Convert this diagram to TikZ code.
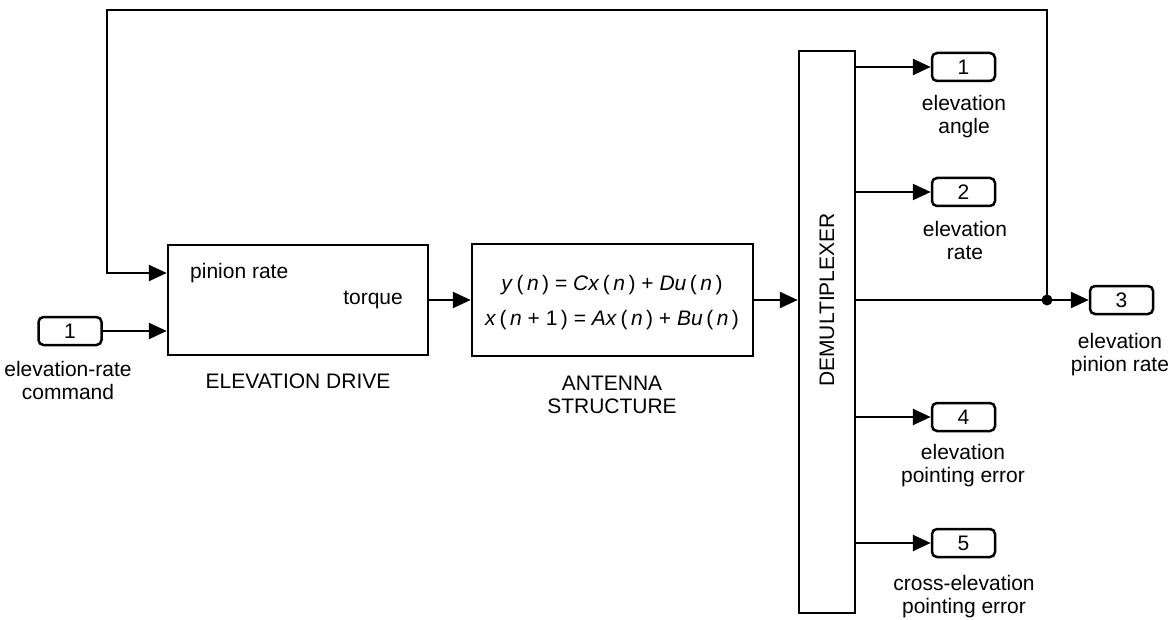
\documentclass[tikz,border=0pt]{standalone}
\usepackage{fontspec}
\setmainfont{Liberation Sans}
\usetikzlibrary{arrows.meta}
\begin{document}
\begin{tikzpicture}[x=1pt,y=-1pt,
  font=\fontsize{21}{23}\selectfont,
  blk/.style={draw,line width=2.5pt,inner sep=0pt},
  port/.style={draw,line width=2.5pt,rounded corners=5pt,minimum width=63pt,minimum height=28pt,inner sep=0pt},
  sig/.style={line width=2.5pt,-{Triangle[length=18pt,width=16pt]}},
  lbl/.style={align=center,inner sep=0pt},
]
\useasboundingbox (0,0) rectangle (1174,620);
% blocks
\node[blk,minimum width=260pt,minimum height=110pt] (drive) at (298,300) {};
\node[anchor=west,inner sep=0pt] (pin) at (190,273) {pinion rate};
\node[anchor=east,inner sep=0pt] (tq) at (403,300) {torque};
\node[lbl] (drivel) at (298,381) {ELEVATION DRIVE};
\node[blk,minimum width=281pt,minimum height=112pt] (ant) at (612.5,300) {};
\node[inner sep=0pt] (eq1) at (612,285) {\textit{y}\,(\,\textit{n}\,) = \textit{Cx}\,(\,\textit{n}\,) + \textit{Du}\,(\,\textit{n}\,)};
\node[inner sep=0pt] (eq2) at (612,320) {\textit{x}\,(\,\textit{n} + 1\,) = \textit{Ax}\,(\,\textit{n}\,) + \textit{Bu}\,(\,\textit{n}\,)};
\node[lbl] (antl) at (612,395) {ANTENNA\\STRUCTURE};
\node[blk,minimum width=56pt,minimum height=562pt] (dmx) at (827,332) {};
\node[rotate=90,inner sep=0pt] (dmxt) at (827,300) {DEMULTIPLEXER};
% ports
\node[port] (in1) at (70,331) {1};
\node[lbl] (in1l) at (68,380) {elevation-rate\\command};
\node[port] (o1) at (963.5,67) {1};
\node[lbl] (o1l) at (964,117) {elevation\\angle};
\node[port] (o2) at (963.5,192) {2};
\node[lbl] (o2l) at (965,240) {elevation\\rate};
\node[port] (o3) at (1121.5,300) {3};
\node[lbl] (o3l) at (1120,355) {elevation\\pinion rate};
\node[port] (o4) at (963.5,417) {4};
\node[lbl] (o4l) at (963,466) {elevation\\pointing error};
\node[port] (o5) at (963.5,543) {5};
\node[lbl] (o5l) at (964,597) {cross-elevation\\pointing error};
% connectors
\coordinate (j) at (1047,300);
\coordinate (fa) at (1047,10);
\coordinate (fb) at (107,10);
\coordinate (fc) at (107,273);
\draw[sig] (in1.east) -- (drive.west |- in1.east);
\draw[sig] (drive.east) -- (ant.west);
\draw[sig] (ant.east) -- (dmx.west |- ant.east);
\draw[sig] (dmx.east |- o1) -- (o1.west);
\draw[sig] (dmx.east |- o2) -- (o2.west);
\draw[sig] (dmx.east |- o3) -- (o3.west);
\draw[sig] (dmx.east |- o4) -- (o4.west);
\draw[sig] (dmx.east |- o5) -- (o5.west);
\draw[sig,line join=miter] (j) -- (fa) -- (fb) -- (fc) -- (drive.west |- fc);
\fill (j) circle (5.5pt);
\end{tikzpicture}
\end{document}
